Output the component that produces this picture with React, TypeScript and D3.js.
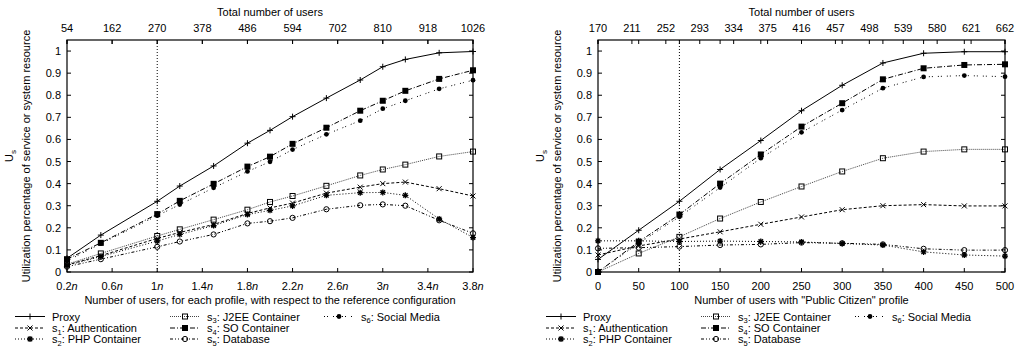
import { useEffect, useRef } from "react";
import * as d3 from "d3";

const FONT = "'Liberation Sans', Arial, Helvetica, sans-serif";

// left panel: users relative to the reference configuration (n)
const leftX = [0.2, 0.5, 1.0, 1.2, 1.5, 1.8, 2.0, 2.2, 2.5, 2.8, 3.0, 3.2, 3.5, 3.8];
const leftProxy = [0.062, 0.167, 0.32, 0.389, 0.48, 0.583, 0.641, 0.703, 0.787, 0.869, 0.929, 0.962, 0.992, 0.998];
const leftS1 = [0.032, 0.074, 0.152, 0.179, 0.215, 0.265, 0.29, 0.312, 0.357, 0.384, 0.4, 0.407, 0.377, 0.344];
const leftS2 = [0.03, 0.07, 0.14, 0.17, 0.21, 0.26, 0.279, 0.299, 0.347, 0.359, 0.36, 0.347, 0.24, 0.156];
const leftS3 = [0.035, 0.084, 0.163, 0.193, 0.237, 0.282, 0.317, 0.344, 0.39, 0.437, 0.464, 0.486, 0.523, 0.545];
const leftS4 = [0.058, 0.132, 0.262, 0.322, 0.399, 0.477, 0.522, 0.58, 0.653, 0.73, 0.775, 0.82, 0.874, 0.913];
const leftS5 = [0.024, 0.058, 0.114, 0.138, 0.17, 0.22, 0.23, 0.245, 0.284, 0.302, 0.306, 0.3, 0.234, 0.175];
const leftS6 = [0.05, 0.128, 0.255, 0.305, 0.381, 0.455, 0.499, 0.554, 0.623, 0.685, 0.739, 0.775, 0.829, 0.868];
const leftTicks = [0.2, 0.6, 1.0, 1.4, 1.8, 2.2, 2.6, 3.0, 3.4, 3.8];
const leftTopTicks = [54, 162, 270, 378, 486, 594, 702, 810, 918, 1026];

// right panel: users with "Public Citizen" profile
const rightX = [0, 50, 100, 150, 200, 250, 300, 350, 400, 450, 500];
const rightProxy = [0.057, 0.189, 0.32, 0.464, 0.595, 0.73, 0.845, 0.946, 0.99, 0.997, 0.997];
const rightS1 = [0.077, 0.118, 0.149, 0.182, 0.216, 0.249, 0.282, 0.3, 0.305, 0.299, 0.299];
const rightS2 = [0.141, 0.141, 0.138, 0.14, 0.138, 0.136, 0.129, 0.122, 0.091, 0.077, 0.072];
const rightS3 = [0, 0.084, 0.159, 0.242, 0.317, 0.387, 0.455, 0.515, 0.545, 0.555, 0.555];
const rightS4 = [0, 0.137, 0.26, 0.4, 0.532, 0.658, 0.764, 0.872, 0.922, 0.937, 0.94];
const rightS5 = [0.107, 0.11, 0.115, 0.122, 0.125, 0.133, 0.13, 0.125, 0.105, 0.099, 0.099];
const rightS6 = [0, 0.13, 0.25, 0.382, 0.515, 0.632, 0.733, 0.832, 0.883, 0.889, 0.884];
const rightTicks = [0, 50, 100, 150, 200, 250, 300, 350, 400, 450, 500];
const rightTopTicks = [170, 211, 252, 293, 334, 375, 416, 457, 498, 539, 580, 621, 662];

const yTicks = [0, 0.1, 0.2, 0.3, 0.4, 0.5, 0.6, 0.7, 0.8, 0.9, 1];

const styles = [
  { name: "Proxy", sub: "", dash: "", marker: "plus" },
  { name: ": Authentication", sub: "1", dash: "3,2", marker: "times" },
  { name: ": PHP Container", sub: "2", dash: "1,2", marker: "asterisk" },
  { name: ": J2EE Container", sub: "3", dash: "1,1", marker: "sqOpen" },
  { name: ": SO Container", sub: "4", dash: "5,2,1,2", marker: "sqFill" },
  { name: ": Database", sub: "5", dash: "3,2,1,2,1,2", marker: "circOpen" },
  { name: ": Social Media", sub: "6", dash: "1,2,1,5", marker: "circFill" },
];

type Sel = d3.Selection<SVGGElement, unknown, null, undefined>;

function marker(g: Sel, type: string, x: number, y: number) {
  const k = "#000";
  if (type === "plus") {
    g.append("path").attr("d", `M${x - 3},${y}H${x + 3}M${x},${y - 3}V${y + 3}`).attr("stroke", k);
  } else if (type === "times") {
    g.append("path").attr("d", `M${x - 2.5},${y - 2.5}L${x + 2.5},${y + 2.5}M${x - 2.5},${y + 2.5}L${x + 2.5},${y - 2.5}`).attr("stroke", k);
  } else if (type === "asterisk") {
    g.append("path")
      .attr("d", `M${x - 3},${y}H${x + 3}M${x},${y - 3}V${y + 3}M${x - 2.2},${y - 2.2}L${x + 2.2},${y + 2.2}M${x - 2.2},${y + 2.2}L${x + 2.2},${y - 2.2}`)
      .attr("stroke", k).attr("stroke-width", 1.3);
  } else if (type === "sqOpen") {
    g.append("rect").attr("x", x - 2.5).attr("y", y - 2.5).attr("width", 5).attr("height", 5)
      .attr("fill", "none").attr("stroke", k);
  } else if (type === "sqFill") {
    g.append("rect").attr("x", x - 3).attr("y", y - 3).attr("width", 6).attr("height", 6).attr("fill", k);
  } else if (type === "circOpen") {
    g.append("circle").attr("cx", x).attr("cy", y).attr("r", 2.6).attr("fill", "none").attr("stroke", k);
  } else {
    g.append("circle").attr("cx", x).attr("cy", y).attr("r", 2.4).attr("fill", k);
  }
}

interface PanelCfg {
  left: number;
  right: number;
  xDomain: [number, number];
  x2Domain: [number, number];
  xs: number[];
  series: number[][];
  ticks: number[];
  topTicks: number[];
  italicN: boolean;
  refLine: number;
  xTitle: string;
}

function drawPanel(svg: d3.Selection<SVGSVGElement, unknown, null, undefined>, c: PanelCfg) {
  const top = 40, bottom = 272;
  const g = svg.append("g") as unknown as Sel;
  const x = d3.scaleLinear().domain(c.xDomain).range([c.left, c.right]);
  const x2 = d3.scaleLinear().domain(c.x2Domain).range([c.left, c.right]);
  const y = d3.scaleLinear().domain([0, 1.05]).range([bottom, top]);
  const fs = 11;

  // reference configuration line
  g.append("line").attr("x1", x(c.refLine)).attr("x2", x(c.refLine)).attr("y1", top).attr("y2", bottom)
    .attr("stroke", "#000").attr("stroke-dasharray", "1,2");

  // ticks
  const tk = g.append("g").attr("stroke", "#000");
  yTicks.forEach(t => {
    tk.append("line").attr("x1", c.left).attr("x2", c.left + 4).attr("y1", y(t)).attr("y2", y(t));
    tk.append("line").attr("x1", c.right).attr("x2", c.right - 4).attr("y1", y(t)).attr("y2", y(t));
  });
  c.ticks.forEach(t => {
    tk.append("line").attr("x1", x(t)).attr("x2", x(t)).attr("y1", bottom).attr("y2", bottom - 4);
    tk.append("line").attr("x1", x(t)).attr("x2", x(t)).attr("y1", top).attr("y2", top + 4);
  });
  c.topTicks.forEach(t => {
    tk.append("line").attr("x1", x2(t)).attr("x2", x2(t)).attr("y1", top).attr("y2", top + 4);
  });

  // tick labels
  const lab = g.append("g").attr("font-family", FONT).attr("font-size", fs).attr("fill", "#000");
  yTicks.forEach(t => {
    lab.append("text").attr("x", c.left - 6).attr("y", y(t)).attr("text-anchor", "end")
      .attr("dominant-baseline", "central").text(String(t));
  });
  c.ticks.forEach(t => {
    const tx = lab.append("text").attr("x", x(t)).attr("y", 290).attr("text-anchor", "middle");
    if (c.italicN) {
      tx.append("tspan").text(d3.format("~g")(t));
      tx.append("tspan").attr("font-style", "italic").text("n");
    } else {
      tx.text(String(t));
    }
  });
  c.topTicks.forEach(t => {
    lab.append("text").attr("x", x2(t)).attr("y", 32).attr("text-anchor", "middle").text(String(t));
  });

  const mid = (c.left + c.right) / 2;
  lab.append("text").attr("x", mid).attr("y", 16).attr("text-anchor", "middle").text("Total number of users");
  lab.append("text").attr("x", mid).attr("y", 304).attr("text-anchor", "middle").text(c.xTitle);

  const yc = (top + bottom) / 2;
  const t1 = lab.append("text").attr("transform", `translate(${c.left - 54},${yc}) rotate(-90)`).attr("text-anchor", "middle");
  t1.append("tspan").text("U");
  t1.append("tspan").attr("dy", 3).attr("font-size", 8).text("s");
  lab.append("text").attr("transform", `translate(${c.left - 37},${yc}) rotate(-90)`).attr("text-anchor", "middle")
    .text("Utilization percentage of service or system resource");

  // series
  c.series.forEach((vals, i) => {
    const st = styles[i];
    const pts = c.xs.map((v, j) => [x(v), y(vals[j])] as [number, number]);
    g.append("path").attr("d", d3.line()(pts)).attr("fill", "none")
      .attr("stroke", i === 3 ? "#444" : "#000").attr("stroke-width", 1)
      .attr("stroke-dasharray", st.dash || null);
    const mg = g.append("g") as unknown as Sel;
    pts.forEach(p => marker(mg, st.marker, p[0], p[1]));
  });

  // frame
  g.append("rect").attr("x", c.left).attr("y", top).attr("width", c.right - c.left).attr("height", bottom - top)
    .attr("fill", "none").attr("stroke", "#000").attr("stroke-width", 1.2);

  // legend
  const cols = [c.left - 52, c.left + 103, c.left + 257];
  const rows = [316.5, 328, 339];
  const lg = g.append("g") as unknown as Sel;
  styles.forEach((st, i) => {
    const cx = cols[Math.floor(i / 3)];
    const ry = rows[i % 3];
    lg.append("line").attr("x1", cx).attr("x2", cx + 30).attr("y1", ry).attr("y2", ry)
      .attr("stroke", i === 3 ? "#444" : "#000").attr("stroke-dasharray", st.dash || null);
    marker(lg, st.marker, cx + 15, ry);
    const tx = lg.append("text").attr("x", cx + 37).attr("y", ry + 4)
      .attr("font-family", FONT).attr("font-size", fs);
    if (st.sub) {
      tx.append("tspan").text("s");
      tx.append("tspan").attr("dy", 2.5).attr("font-size", 7.5).text(st.sub);
      tx.append("tspan").attr("dy", -2.5).text(st.name);
    } else {
      tx.text(st.name);
    }
  });
}

export default function App() {
  const ref = useRef<SVGSVGElement | null>(null);

  useEffect(() => {
    if (!ref.current) return;
    const svg = d3.select(ref.current);
    svg.selectAll("*").remove();
    drawPanel(svg, {
      left: 67, right: 473, xDomain: [0.2, 3.8], x2Domain: [54, 1026],
      xs: leftX, series: [leftProxy, leftS1, leftS2, leftS3, leftS4, leftS5, leftS6],
      ticks: leftTicks, topTicks: leftTopTicks, italicN: true, refLine: 1,
      xTitle: "Number of users, for each profile, with respect to the reference configuration",
    });
    drawPanel(svg, {
      left: 598, right: 1005, xDomain: [0, 500], x2Domain: [170, 662],
      xs: rightX, series: [rightProxy, rightS1, rightS2, rightS3, rightS4, rightS5, rightS6],
      ticks: rightTicks, topTicks: rightTopTicks, italicN: false, refLine: 100,
      xTitle: "Number of users with \"Public Citizen\" profile",
    });
  }, []);

  return (
    <div style={{ position: "absolute", left: 0, top: 0 }}>
      <svg ref={ref} width={1024} height={346} style={{ display: "block", background: "#fff" }} />
    </div>
  );
}
